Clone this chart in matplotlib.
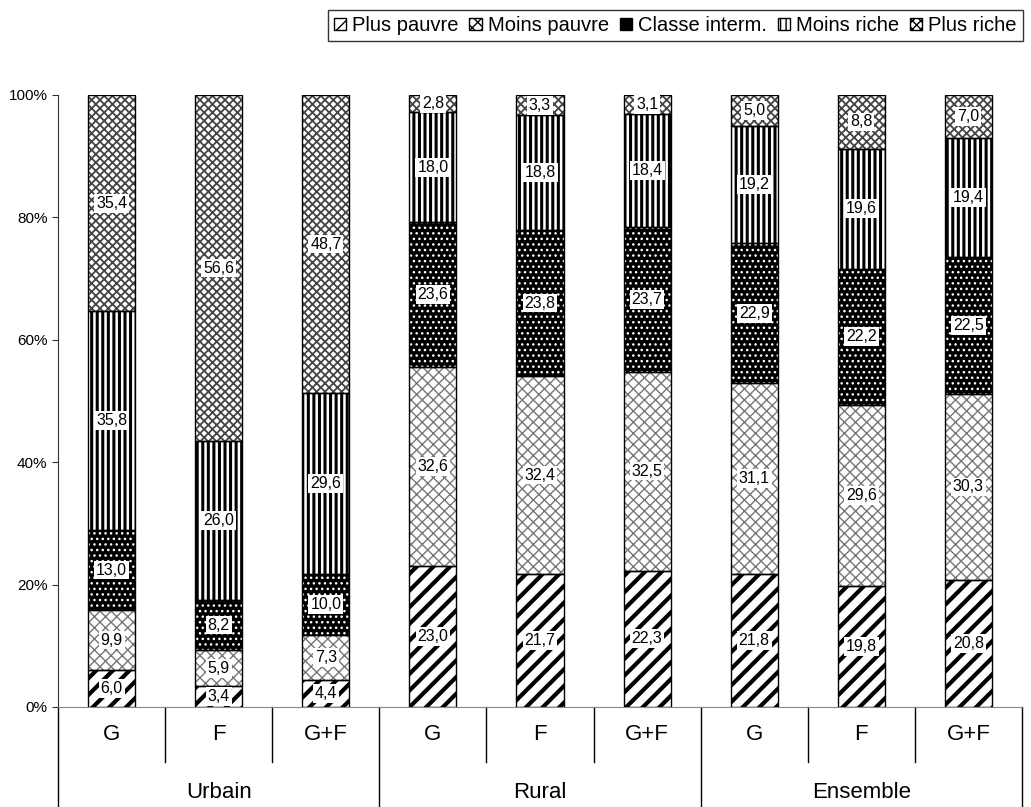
import matplotlib
matplotlib.use('Agg')
import matplotlib.pyplot as plt
import matplotlib.transforms as mtransforms
from matplotlib.patches import Patch
from matplotlib.lines import Line2D
import numpy as np

plt.rcParams['font.family'] = ['Liberation Sans', 'DejaVu Sans']

# categories
sub_labels = ['G', 'F', 'G+F'] * 3
group_labels = ['Urbain', 'Rural', 'Ensemble']
series_names = ['Plus pauvre', 'Moins pauvre', 'Classe interm.', 'Moins riche', 'Plus riche']

# values (%), one list per series, in category order
plus_pauvre = [6.0, 3.4, 4.4, 23.0, 21.7, 22.3, 21.8, 19.8, 20.8]
moins_pauvre = [9.9, 5.9, 7.3, 32.6, 32.4, 32.5, 31.1, 29.6, 30.3]
classe_interm = [13.0, 8.2, 10.0, 23.6, 23.8, 23.7, 22.9, 22.2, 22.5]
moins_riche = [35.8, 26.0, 29.6, 18.0, 18.8, 18.4, 19.2, 19.6, 19.4]
plus_riche = [35.4, 56.6, 48.7, 2.8, 3.3, 3.1, 5.0, 8.8, 7.0]

series = [plus_pauvre, moins_pauvre, classe_interm, moins_riche, plus_riche]

# styles: face, hatch, hatch colour, hatch width
styles = [
    ('white', '//', 'black', 3.0),
    ('white', 'xxx', '#777777', 1.0),
    ('black', '...', 'white', 1.0),
    ('white', '|||', 'black', 2.2),
    ('white', 'xxxx', '#444444', 1.3),
]

fig = plt.figure(figsize=(10.31, 8.07), dpi=100)
ax = fig.add_axes([58 / 1031, 100 / 807, (1022 - 58) / 1031, 612 / 807])

data = np.array(series)
totals = data.sum(axis=0)
pct = data / totals * 100
x = np.arange(len(sub_labels))
width = 0.44
bottom = np.zeros(len(x))

for k, name in enumerate(series_names):
    face, hatch, hcol, hlw = styles[k]
    plt.rcParams['hatch.linewidth'] = hlw
    ax.bar(x, pct[k], width, bottom=bottom, color=face, edgecolor=hcol,
           hatch=hatch, linewidth=0, zorder=2)
    ax.bar(x, pct[k], width, bottom=bottom, fill=False, edgecolor='black',
           linewidth=1.0, zorder=3)
    for i in range(len(x)):
        ax.text(x[i], bottom[i] + pct[k][i] / 2, ('%.1f' % data[k][i]).replace('.', ','),
                ha='center', va='center', fontsize=11.5, zorder=4,
                bbox=dict(boxstyle='square,pad=0.12', fc='white', ec='none'))
    bottom += pct[k]

ax.set_xlim(-0.5, len(x) - 0.5)
ax.set_ylim(0, 100)
ax.set_yticks([0, 20, 40, 60, 80, 100])
ax.set_yticklabels(['0%', '20%', '40%', '60%', '80%', '100%'], fontsize=11)
ax.set_xticks([])
for s in ['top', 'right']:
    ax.spines[s].set_visible(False)
ax.spines['left'].set_color('#333333')
ax.spines['bottom'].set_color('#888888')
ax.tick_params(axis='y', length=4, color='#333333')

# category axis below the plot
trans = mtransforms.blended_transform_factory(ax.transData, fig.transFigure)
y0 = 100 / 807
for i in range(len(x) + 1):
    xb = i - 0.5
    if i % 3 == 0:
        ax.add_line(Line2D([xb, xb], [0, y0], transform=trans, color='black',
                           lw=1, clip_on=False))
    else:
        ax.add_line(Line2D([xb, xb], [y0 - 55 / 807, y0], transform=trans,
                           color='black', lw=1, clip_on=False))
for i, lab in enumerate(sub_labels):
    ax.text(x[i], 1 - 735 / 807, lab, transform=trans, ha='center', va='center',
            fontsize=16)
for g, lab in enumerate(group_labels):
    ax.text(3 * g + 1, 1 - 793 / 807, lab, transform=trans, ha='center',
            va='center', fontsize=16)

# legend
handles = []
for k, name in enumerate(series_names):
    face, hatch, hcol, hlw = styles[k]
    plt.rcParams['hatch.linewidth'] = 1.0
    handles.append(Patch(facecolor=face, edgecolor='black', hatch=hatch, label=name))
leg = fig.legend(handles=handles, loc='upper right', bbox_to_anchor=(1023 / 1031, 1 - 10 / 807),
                 ncol=5, fontsize=14.5, frameon=True, fancybox=False, edgecolor='black',
                 handlelength=0.6, handleheight=0.6, handletextpad=0.3,
                 columnspacing=0.55, borderpad=0.3, borderaxespad=0)
leg.get_frame().set_linewidth(1.0)

fig.savefig('out.png', dpi=100)
